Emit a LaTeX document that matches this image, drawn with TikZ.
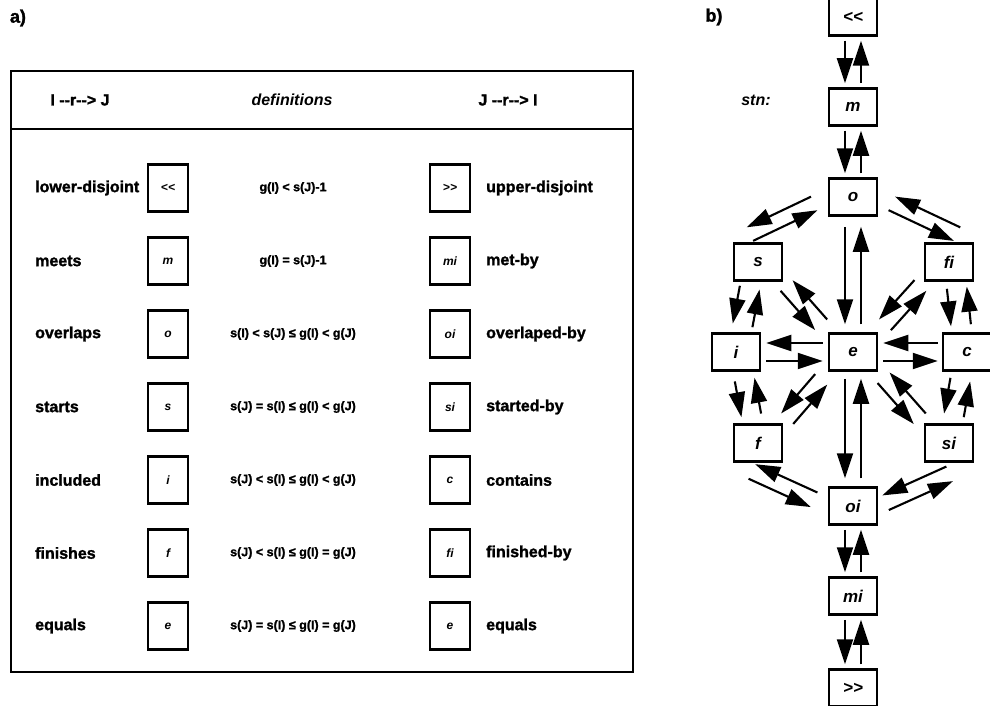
\documentclass[tikz,border=0pt]{standalone}
\usepackage{fontspec}
\newfontfamily\labfont{Liberation Sans}[BoldFeatures={FakeBold=1.5}]
\usetikzlibrary{arrows.meta,calc}

% two parallel arrows between #1 and #2, each kept to the right of its travel direction
% #3 offset from the centre line, #4 gap at the #1 end, #5 gap at the #2 end
\newcommand\twoway[5]{%
  \draw[relarrow, shorten <=#4, shorten >=#5] ($(#1)!#3!-90:(#2)$) -- ($(#2)!#3!90:(#1)$);
  \draw[relarrow, shorten <=#5, shorten >=#4] ($(#2)!#3!-90:(#1)$) -- ($(#1)!#3!90:(#2)$);
}

\begin{document}
\begin{tikzpicture}[x=1pt,y=-1pt,
  every node/.style={inner sep=0pt, font=\labfont\bfseries\fontsize{16}{19}\selectfont},
  panel/.style={font=\labfont\bfseries\fontsize{18}{21}\selectfont},
  tbox/.style={draw, line width=2.3pt, minimum width=40pt, minimum height=47pt,
    font=\labfont\bfseries\itshape\fontsize{12}{14}\selectfont},
  gbox/.style={draw, line width=2.5pt, minimum width=48pt, minimum height=37pt,
    font=\labfont\bfseries\itshape\fontsize{17}{20}\selectfont},
  rowlab/.style={anchor=west},
  defn/.style={font=\labfont\bfseries\fontsize{12.5}{15}\selectfont},
  relarrow/.style={line width=2.1pt, -{Triangle[length=25pt,width=16pt]}},
]
\useasboundingbox (0,0) rectangle (990,706);

% ---------- a) the table ----------
\node[panel] (pa) at (18,18) {a)};
\draw[line width=2.6pt] (11,71) rectangle (633,672);
\draw[line width=2.6pt] (11,129) -- (633,129);

\node (h1) at (80,100) {I --r--> J};
\node[font=\labfont\bfseries\itshape\fontsize{16}{19}\selectfont] (h2) at (292,100) {definitions};
\node (h3) at (508,100) {J --r--> I};

\foreach \y/\lt/\lb/\df/\rb/\rt [count=\k] in {
  188/lower-disjoint/<</{g(I) < s(J)-1}/>>/upper-disjoint,
  261/meets/m/{g(I) = s(J)-1}/mi/met-by,
  334/overlaps/o/{s(I) < s(J) ≤ g(I) < g(J)}/oi/overlaped-by,
  407/starts/s/{s(J) = s(I) ≤ g(I) < g(J)}/si/started-by,
  480/included/i/{s(J) < s(I) ≤ g(I) < g(J)}/c/contains,
  553/finishes/f/{s(J) < s(I) ≤ g(I) = g(J)}/fi/finished-by,
  626/equals/e/{s(J) = s(I) ≤ g(I) = g(J)}/e/equals}{
  \node[rowlab] (lt\k) at (35,\y) {\lt};
  \node[tbox] (lb\k) at (168,\y) {\lb};
  \node[defn] (df\k) at (293,\y) {\df};
  \node[tbox] (rb\k) at (450,\y) {\rb};
  \node[rowlab] (rt\k) at (486,\y) {\rt};
}

% ---------- b) the neighbourhood graph ----------
\node[panel] (pb) at (714,17) {b)};
\node[font=\labfont\bfseries\itshape\fontsize{16}{19}\selectfont] (stn) at (756,100) {stn:};

\node[gbox] (ll) at (853,17)  {<<};
\node[gbox] (m)  at (853,107) {m};
\node[gbox] (o)  at (853,197) {o};
\node[gbox] (s)  at (758,262) {s};
\node[gbox] (fi) at (949,262) {fi};
\node[gbox] (i)  at (736,352) {i};
\node[gbox] (e)  at (853,352) {e};
\node[gbox] (c)  at (967,352) {c};
\node[gbox] (f)  at (758,443) {f};
\node[gbox] (si) at (949,443) {si};
\node[gbox] (oi) at (853,506) {oi};
\node[gbox] (mi) at (853,596) {mi};
\node[gbox] (gg) at (853,688) {>>};

\twoway{ll.south}{m.north}{8pt}{4pt}{4pt}
\twoway{m.south}{o.north}{8pt}{4pt}{4pt}
\twoway{o.south}{e.north}{8pt}{10pt}{8pt}
\twoway{e.south}{oi.north}{8pt}{7pt}{8pt}
\twoway{oi.south}{mi.north}{8pt}{4pt}{4pt}
\twoway{mi.south}{gg.north}{8pt}{4pt}{4pt}

\twoway{o.west}{s.north west}{7.5pt}{15pt}{19pt}
\twoway{o.east}{fi.north east}{7.5pt}{15pt}{19pt}
\twoway{s.250}{i.75}{10pt}{6pt}{7pt}
\twoway{fi.290}{c.105}{10pt}{6pt}{7pt}
\twoway{s.south east}{e.north west}{8pt}{5pt}{10pt}
\twoway{fi.south west}{e.north east}{8pt}{5pt}{10pt}
\twoway{i.east}{e.west}{9pt}{5pt}{5pt}
\twoway{e.east}{c.west}{9pt}{5pt}{4pt}
\twoway{i.-70}{f.105}{10pt}{8pt}{8pt}
\twoway{c.255}{si.80}{10pt}{8pt}{8pt}
\twoway{e.south west}{f.north east}{8pt}{10pt}{6pt}
\twoway{e.south east}{si.north west}{8pt}{8pt}{6pt}
\twoway{f.south west}{oi.west}{8pt}{21pt}{15pt}
\twoway{si.south east}{oi.east}{8pt}{27pt}{8pt}
\end{tikzpicture}
\end{document}
